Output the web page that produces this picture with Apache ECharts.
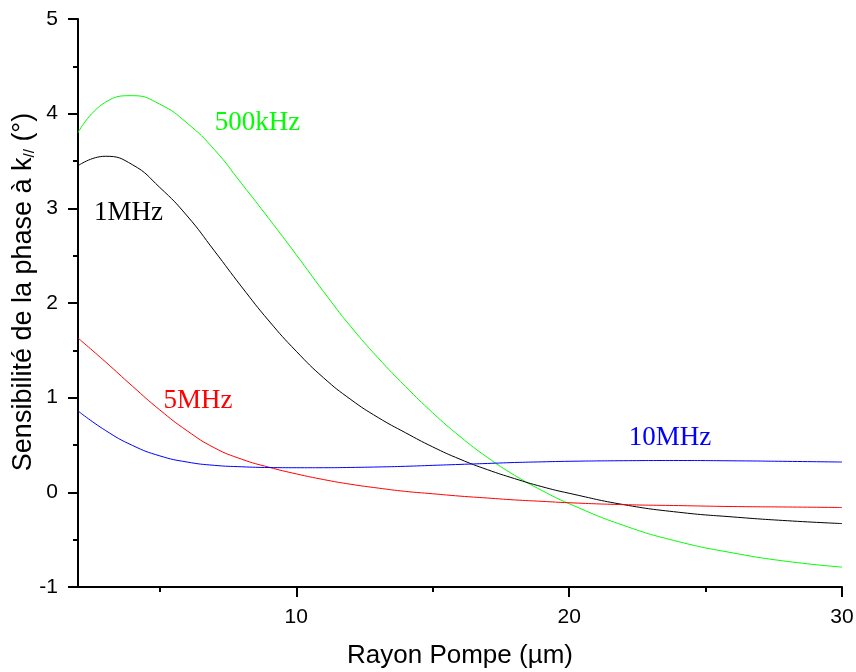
<!DOCTYPE html>
<html>
<head>
<meta charset="utf-8">
<script src="https://cdn.jsdelivr.net/npm/echarts@6/dist/echarts.min.js"></script>
<style>
  html, body { margin: 0; padding: 0; background: #ffffff; }
  #chart { width: 856px; height: 672px; }
</style>
</head>
<body>
<div id="chart"></div>
<script>
// Pump radius (µm)
const rayon = [2, 3, 4, 5, 6, 7, 8, 9, 10, 11, 12, 13, 14, 15, 16, 17, 18, 19, 20, 22, 24, 26, 28, 30];

// Phase sensitivity to k// (degrees) for each modulation frequency
const s500kHz = [3.80, 4.12, 4.19, 4.10, 3.90, 3.62, 3.26, 2.89, 2.51, 2.12, 1.75, 1.42, 1.12, 0.84, 0.59, 0.37, 0.18, 0.02, -0.12, -0.35, -0.52, -0.64, -0.73, -0.79];
const s1MHz   = [3.45, 3.55, 3.46, 3.22, 2.92, 2.55, 2.17, 1.81, 1.49, 1.21, 0.98, 0.79, 0.63, 0.48, 0.35, 0.24, 0.145, 0.06, -0.01, -0.13, -0.21, -0.26, -0.30, -0.33];
const s5MHz   = [1.63, 1.38, 1.12, 0.87, 0.65, 0.47, 0.35, 0.265, 0.195, 0.135, 0.085, 0.045, 0.01, -0.015, -0.04, -0.06, -0.08, -0.095, -0.11, -0.13, -0.14, -0.15, -0.155, -0.16];
const s10MHz  = [0.86, 0.655, 0.495, 0.385, 0.32, 0.285, 0.27, 0.262, 0.26, 0.26, 0.263, 0.268, 0.275, 0.285, 0.295, 0.305, 0.315, 0.322, 0.328, 0.334, 0.336, 0.333, 0.327, 0.32];

const seriesNames = ['500kHz', '1MHz', '5MHz', '10MHz'];
const seriesColors = ['#00ff00', '#000000', '#ff0000', '#0000ff'];
// Where each curve's name is written, in data units (x, y)
const nameAnchors = [[8.58, 3.90], [3.85, 2.95], [6.4, 0.97], [23.7, 0.58]];

// Axis ticks
const xMajorTicks = [10, 20, 30];
const xMinorTicks = [5, 15, 25];

const sans = '"Liberation Sans", Arial, sans-serif';
const serif = '"Liberation Serif", "Times New Roman", serif';

const allValues = [s500kHz, s1MHz, s5MHz, s10MHz];

const chart = echarts.init(document.getElementById('chart'), null, { renderer: 'canvas' });

const series = allValues.map((vals, i) => ({
  name: seriesNames[i],
  type: 'line',
  xAxisIndex: 0,
  yAxisIndex: 0,
  data: rayon.map((x, k) => [x, vals[k]]),
  smooth: 0.5,
  showSymbol: false,
  symbol: 'none',
  lineStyle: { color: seriesColors[i], width: 1 },
  itemStyle: { color: seriesColors[i] },
  z: 3,
  markPoint: {
    symbol: 'circle',
    symbolSize: 0,
    silent: true,
    animation: false,
    data: [{ coord: nameAnchors[i], value: seriesNames[i] }],
    label: {
      show: true,
      position: 'inside',
      formatter: seriesNames[i],
      color: seriesColors[i],
      fontFamily: serif,
      fontSize: 27
    }
  }
}));

chart.setOption({
  animation: false,
  backgroundColor: '#ffffff',
  grid: { left: 78, right: 14, top: 19, bottom: 85, containLabel: false, outerBoundsMode: 'none' },
  xAxis: [
    {
      type: 'value',
      min: 2,
      max: 30,
      name: 'Rayon Pompe (µm)',
      nameLocation: 'middle',
      nameGap: 56,
      nameMoveOverlap: false,
      nameTextStyle: { fontFamily: sans, fontSize: 26, color: '#000' },
      axisLine: { show: true, onZero: false, lineStyle: { color: '#000', width: 2 } },
      axisTick: { show: true, inside: false, length: 10, customValues: xMajorTicks, lineStyle: { color: '#000', width: 2 } },
      axisLabel: { show: true, customValues: xMajorTicks, margin: 20, fontFamily: sans, fontSize: 21, color: '#000' },
      splitLine: { show: false }
    },
    {
      type: 'value',
      min: 2,
      max: 30,
      position: 'bottom',
      axisLine: { show: false, onZero: false },
      axisTick: { show: true, inside: false, length: 5, customValues: xMinorTicks, lineStyle: { color: '#000', width: 2 } },
      axisLabel: { show: false },
      splitLine: { show: false }
    }
  ],
  yAxis: {
    type: 'value',
    min: -1,
    max: 5,
    interval: 1,
    name: 'Sensibilité de la phase à k{s|//} (°)',
    nameLocation: 'middle',
    nameGap: 41,
    nameMoveOverlap: false,
    nameTextStyle: {
      fontFamily: sans, fontSize: 27, color: '#000',
      padding: [0, 0, 0, 22],
      rich: {
        s: { fontFamily: sans, fontSize: 15, color: '#000', verticalAlign: 'bottom', padding: [10, 0, 0, 0] }
      }
    },
    axisLine: { show: true, onZero: false, lineStyle: { color: '#000', width: 2 } },
    axisTick: { show: true, inside: false, length: 10, lineStyle: { color: '#000', width: 2 } },
    minorTick: { show: true, splitNumber: 2, length: 5, lineStyle: { color: '#000', width: 2 } },
    axisLabel: { margin: 20, fontFamily: sans, fontSize: 21, color: '#000' },
    splitLine: { show: false },
    minorSplitLine: { show: false }
  },
  series: series
});
</script>
</body>
</html>
